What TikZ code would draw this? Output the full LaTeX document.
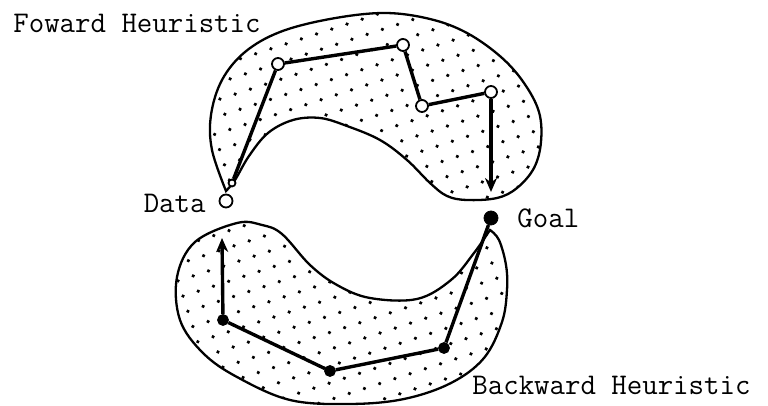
\documentclass[tikz,border=0pt]{standalone}
\usetikzlibrary{patterns.meta,arrows.meta}
\begin{document}
\begin{tikzpicture}[x=0.5pt,y=-0.5pt,
  blob/.style={draw=black,line width=1.15pt,pattern={Dots[distance=8pt,radius=0.95pt,angle=18]}},
  route/.style={line width=1.7pt},
  opennode/.style={circle,draw,fill=white,line width=0.9pt,inner sep=0pt,minimum size=6pt},
  fullnode/.style={circle,draw,fill=black,inner sep=0pt,minimum size=5.5pt},
  lbl/.style={font=\ttfamily\fontsize{15}{18}\selectfont,inner sep=0pt}]
\useasboundingbox (0,0) rectangle (768,406);
% forward region
\draw[blob] plot[smooth,tension=0.6] coordinates {(226,191) (212,150) (211,115) (222,80) (245,52) (280,32) (330,19) (384,13) (430,19) (467,33) (501,57) (524,83) (539,112) (541,142) (534,168) (517,188) (497,198) (467,200) (447,196) (430,183) (407,160) (380,140) (347,126) (320,118) (293,120) (268,133) (249,156) (235,180) (226,191)} -- cycle;
% backward region
\draw[blob] plot[smooth,tension=0.6] coordinates {(490,230) (499,240) (506,265) (507,290) (502,322) (484,358) (451,383) (404,399) (350,404) (290,400) (237,377) (203,353) (180,320) (177,277) (195,242) (237,223) (262,225) (282,234) (310,265) (337,285) (370,298) (417,299) (451,280) (474,253) (490,230)} -- cycle;
% nodes
\node[opennode,minimum size=6.5pt] (data) at (226,201) {};
\node[fullnode,minimum size=7pt] (goal) at (491,218) {};
\node[opennode,minimum size=3.5pt] (fs) at (232,183) {};
\node[opennode] (f1) at (278,64) {};
\node[opennode] (f2) at (403,45) {};
\node[opennode] (f3) at (422,106) {};
\node[opennode] (f4) at (491,92) {};
\coordinate (fend) at (491,192);
\node[fullnode] (b1) at (444,348) {};
\node[fullnode] (b2) at (330,371) {};
\node[fullnode] (b3) at (223,320) {};
\coordinate (bend) at (222,238);
% routes
\draw[route] (fs) -- (f1) -- (f2) -- (f3) -- (f4);
\draw[route,-{Stealth[length=7pt,width=6pt]}] (f4) -- (fend);
\draw[route] (goal) -- (b1) -- (b2) -- (b3);
\draw[route,-{Stealth[length=7pt,width=6pt]}] (b3) -- (bend);
% labels
\node[lbl,anchor=west] (fh) at (13,23) {Foward Heuristic};
\node[lbl,anchor=east] (dl) at (206,203) {Data};
\node[lbl,anchor=west] (gl) at (517,218) {Goal};
\node[lbl,anchor=west] (bh) at (472,385) {Backward Heuristic};
\end{tikzpicture}
\end{document}
